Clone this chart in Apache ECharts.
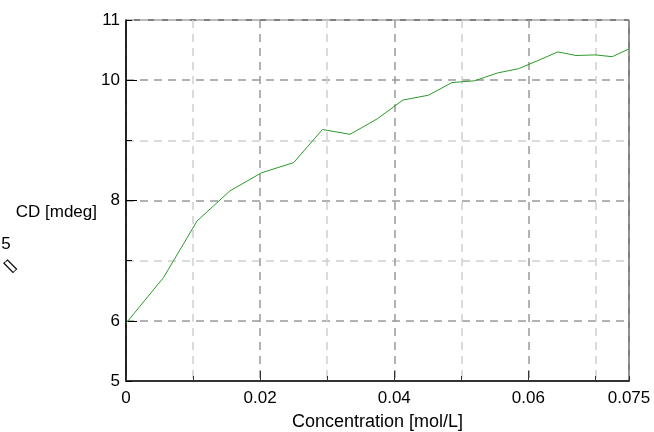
<!DOCTYPE html>
<html>
<head>
<meta charset="utf-8">
<script src="https://cdn.jsdelivr.net/npm/echarts@6/dist/echarts.min.js"></script>
<style>html,body{margin:0;padding:0;background:#fff}#c{width:654px;height:432px}</style>
</head>
<body>
<div id="c"></div>
<script>
var concentration = [0, 0.0056, 0.0106, 0.0155, 0.0202, 0.025, 0.0293, 0.0334, 0.0375, 0.0413, 0.0451, 0.0486, 0.052, 0.0554, 0.0585, 0.0613, 0.0644, 0.0671, 0.070, 0.0725, 0.075];
var cdValues = [5.96, 6.72, 7.66, 8.16, 8.46, 8.63, 9.18, 9.10, 9.36, 9.67, 9.75, 9.96, 9.99, 10.12, 10.19, 10.32, 10.47, 10.41, 10.42, 10.39, 10.52];
var xTickLabels = [0, 0.02, 0.04, 0.06, 0.075];
var xMajorTicks = [0.02, 0.04, 0.06];
var yTickLabels = [5, 6, 8, 10, 11];
var yMajorTicks = [6, 8, 10];

var data = concentration.map(function (x, i) { return [x, cdValues[i]]; });
var font = 'Liberation Sans, Arial, sans-serif';
var chart = echarts.init(document.getElementById('c'));
chart.setOption({
  animation: false,
  grid: { left: 126, right: 25, top: 20, bottom: 51, show: true, borderColor: '#000', borderWidth: 1, outerBoundsMode: 'none', containLabel: false },
  xAxis: [{
    type: 'value', min: 0, max: 0.075, interval: 0.01,
    name: 'Concentration [mol/L]', nameLocation: 'middle', nameGap: 32,
    nameTextStyle: { fontFamily: font, fontSize: 18, color: '#000' },
    axisLine: { show: true, lineStyle: { color: '#333', width: 2 } },
    axisTick: { show: true, inside: true, length: 5, lineStyle: { color: '#333', width: 1 } },
    axisLabel: { customValues: xTickLabels, margin: 9, fontFamily: font, fontSize: 17, color: '#000',
      formatter: function (v) { return String(+v.toFixed(3)); } },
    splitLine: { show: true, lineStyle: { color: ['#999', '#d0d0d0'], type: [8, 6], width: 1.5 } }
  }, {
    type: 'value', min: 0, max: 0.075, position: 'bottom',
    axisLine: { show: false },
    axisTick: { show: true, inside: true, length: 10, customValues: xMajorTicks, lineStyle: { color: '#333', width: 1 } },
    axisLabel: { show: false }, splitLine: { show: false }
  }],
  yAxis: [{
    type: 'value', min: 5, max: 11, interval: 1, position: 'left',
    axisLine: { show: true, lineStyle: { color: '#000', width: 1.5 } },
    axisTick: { show: true, inside: true, length: 6, lineStyle: { color: '#000', width: 1 } },
    axisLabel: { customValues: yTickLabels, margin: 6, fontFamily: font, fontSize: 17, color: '#000' },
    splitLine: { show: true, lineStyle: { color: ['#d0d0d0', '#999'], type: [8, 6], width: 1.5 } }
  }, {
    type: 'value', min: 5, max: 11, position: 'left',
    axisLine: { show: false },
    axisTick: { show: true, inside: true, length: 11, customValues: yMajorTicks, lineStyle: { color: '#000', width: 1 } },
    axisLabel: { show: false }, splitLine: { show: false }
  }],
  graphic: [
    { type: 'text', x: 97, y: 212, style: { text: 'CD [mdeg]', fontFamily: font, fontSize: 17, fill: '#000', align: 'right', verticalAlign: 'middle' } },
    { type: 'text', x: 6, y: 244, style: { text: '5', fontFamily: font, fontSize: 17, fill: '#000', align: 'center', verticalAlign: 'middle' } },
    { type: 'text', x: 10, y: 266, rotation: Math.PI / 4, style: { text: '[]', fontFamily: font, fontSize: 15, fill: '#000', align: 'center', verticalAlign: 'middle' } }
  ],
  series: [{
    type: 'line', data: data, xAxisIndex: 0, yAxisIndex: 0,
    showSymbol: false, symbol: 'none',
    lineStyle: { color: '#2a9a2a', width: 1 }
  }]
});
</script>
</body>
</html>
